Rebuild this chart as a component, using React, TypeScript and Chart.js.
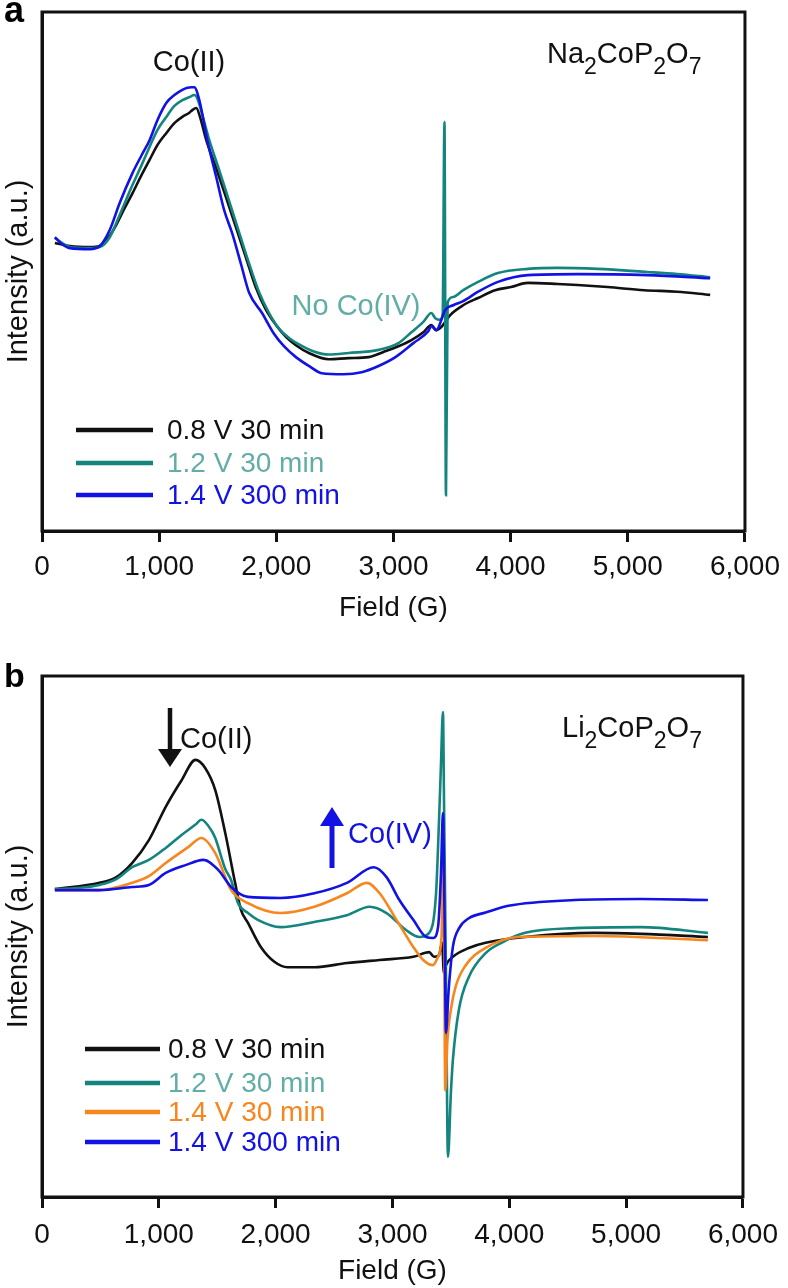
import React, { useEffect, useRef } from 'react';
import { Chart, registerables } from 'chart.js';

Chart.register(...registerables);

const FONT = '"Liberation Sans", Arial, Helvetica, sans-serif';

// ---------- axis ----------
const fieldTicks = [0, 1000, 2000, 3000, 4000, 5000, 6000];
const fieldTickLabels = ['0', '1,000', '2,000', '3,000', '4,000', '5,000', '6,000'];

// ---------- legend labels ----------
const labelsA = ['0.8 V 30 min', '1.2 V 30 min', '1.4 V 300 min'];
const labelsB = ['0.8 V 30 min', '1.2 V 30 min', '1.4 V 30 min', '1.4 V 300 min'];

// ---------- panel a : Na2CoP2O7 ----------
const aBlackField = [110, 238, 408, 493, 552, 620, 705, 773, 850, 918, 986, 1062, 1130, 1198, 1258, 1283, 1317, 1351, 1402, 1487, 1572, 1657, 1742, 1827, 1912, 1997, 2082, 2167, 2278, 2448, 2617, 2787, 2915, 3042, 3153, 3255, 3323, 3365, 3408, 3442, 3484, 3595, 3722, 3867, 4003, 4147, 4402, 4572, 4827, 5141, 5422, 5703];
const aBlackIntensity = [55.5, 54.9, 54.7, 54.9, 56.1, 58.4, 62.2, 65.1, 68.6, 71.5, 74.4, 76.7, 78.6, 79.8, 80.6, 81.1, 81.5, 79.6, 75.3, 69.9, 64.2, 58.4, 52.6, 46.8, 42.6, 39.7, 37.4, 35.8, 34.3, 33.1, 33.3, 33.5, 34.5, 35.6, 36.8, 38.3, 39.7, 38.7, 39.3, 40.3, 41.6, 43.5, 44.9, 46.4, 47.0, 47.8, 47.6, 47.4, 47.0, 46.4, 46.1, 45.5];

const aTealField = [110, 170, 238, 408, 493, 578, 663, 773, 850, 918, 986, 1062, 1130, 1198, 1258, 1300, 1325, 1368, 1428, 1513, 1598, 1683, 1768, 1853, 1938, 2023, 2108, 2190, 2320, 2448, 2617, 2873, 3042, 3153, 3255, 3323, 3357, 3399, 3420, 3435, 3448, 3462, 3510, 3595, 3722, 3892, 4147, 4402, 4742, 5167, 5422, 5703];
const aTealIntensity = [56.5, 55.5, 54.7, 54.5, 54.7, 56.6, 60.9, 66.7, 70.5, 74.0, 77.3, 79.8, 81.9, 83.0, 83.6, 84.0, 83.4, 80.2, 75.3, 69.5, 63.5, 57.5, 51.5, 46.0, 42.0, 39.0, 37.2, 36.0, 34.6, 34.0, 34.3, 34.9, 36.2, 38.3, 40.3, 42.0, 41.0, 40.7, 41.6, 78.8, 6.9, 44.0, 45.1, 46.4, 48.0, 49.7, 50.5, 50.7, 50.5, 49.9, 49.5, 48.9];

const aBlueField = [110, 170, 238, 408, 493, 578, 663, 773, 850, 918, 986, 1062, 1130, 1198, 1241, 1275, 1300, 1343, 1411, 1487, 1555, 1623, 1700, 1768, 1878, 1980, 2065, 2167, 2278, 2388, 2575, 2728, 2873, 3017, 3170, 3297, 3323, 3365, 3442, 3510, 3595, 3722, 3892, 4147, 4572, 5167, 5703];
const aBlueIntensity = [56.6, 55.3, 54.5, 54.3, 54.9, 58.0, 63.2, 69.0, 72.4, 75.3, 79.2, 82.5, 84.0, 85.0, 85.4, 85.5, 85.5, 83.0, 75.3, 68.2, 61.8, 57.4, 51.3, 45.9, 42.0, 38.0, 35.6, 33.5, 31.8, 30.4, 30.2, 30.6, 31.8, 33.5, 36.2, 38.5, 39.5, 38.7, 42.6, 43.5, 44.3, 46.1, 48.0, 49.3, 49.5, 49.3, 48.7];

// ---------- panel b : Li2CoP2O7 ----------
const bBlackField = [110, 492, 636, 771, 915, 1059, 1195, 1314, 1398, 1483, 1568, 1653, 1703, 1763, 1873, 1992, 2102, 2331, 2610, 2890, 3178, 3314, 3356, 3398, 3425, 3440, 3458, 3517, 3653, 3797, 4136, 4729, 5127, 5700];
const bBlackIntensity = [59.1, 60.3, 61.4, 64.1, 68.5, 74.9, 80.0, 83.9, 82.3, 78.1, 69.9, 60.3, 55.1, 52.6, 48.0, 45.1, 44.1, 44.1, 44.9, 45.5, 46.1, 47.0, 46.1, 46.4, 48.8, 43.0, 44.5, 46.1, 47.8, 48.8, 49.9, 50.7, 50.5, 49.9];

const bTealField = [110, 300, 492, 636, 771, 915, 1059, 1195, 1314, 1364, 1449, 1483, 1568, 1619, 1678, 1763, 1847, 2042, 2331, 2610, 2805, 2949, 3119, 3229, 3314, 3373, 3398, 3415, 3432, 3441, 3458, 3475, 3500, 3517, 3568, 3653, 3797, 3941, 4136, 4559, 5127, 5700];
const bTealIntensity = [59.1, 59.3, 59.9, 61.0, 63.3, 64.7, 67.0, 69.5, 71.5, 72.4, 70.4, 68.9, 63.0, 60.8, 56.4, 54.5, 53.2, 51.8, 52.8, 54.1, 55.7, 54.5, 51.2, 49.9, 50.7, 58.3, 72.0, 83.0, 93.1, 76.0, 42.0, 7.7, 20.0, 26.3, 35.9, 42.2, 46.8, 48.9, 50.7, 51.6, 51.8, 50.7];

const bOrangeField = [110, 492, 771, 915, 1059, 1254, 1364, 1483, 1619, 1763, 2042, 2331, 2610, 2780, 2890, 3034, 3178, 3263, 3347, 3390, 3420, 3436, 3452, 3470, 3500, 3542, 3627, 3797, 4076, 4729, 5700];
const bOrangeIntensity = [58.9, 58.9, 60.3, 61.6, 64.1, 67.2, 68.9, 66.0, 58.9, 56.4, 54.5, 55.7, 58.3, 60.3, 58.3, 53.2, 48.0, 45.5, 44.5, 46.1, 50.0, 70.4, 20.5, 30.0, 36.0, 40.5, 44.5, 47.8, 49.9, 50.1, 49.3];

const bBlueField = [110, 492, 771, 915, 1059, 1229, 1381, 1508, 1619, 1763, 2042, 2331, 2610, 2839, 2949, 3059, 3178, 3288, 3347, 3390, 3415, 3432, 3445, 3458, 3480, 3517, 3568, 3653, 3797, 3992, 4559, 5127, 5700];
const bBlueIntensity = [58.9, 58.9, 59.5, 59.9, 62.2, 63.7, 64.7, 62.8, 59.5, 57.6, 57.4, 58.3, 60.3, 63.3, 61.4, 57.0, 53.2, 49.9, 49.7, 51.8, 62.0, 73.7, 55.0, 31.5, 39.5, 48.0, 51.5, 53.5, 54.6, 55.9, 57.0, 57.2, 57.0];

// ---------- styles ----------
const C_BLACK = '#111111';
const C_TEAL = '#14857e';
const C_TEAL_TEXT = '#62aea6';
const C_ORANGE = '#f7861e';
const C_BLUE = '#1212e4';

const toPoints = (xs: number[], ys: number[]) => xs.map((x, i) => ({ x, y: ys[i] }));

const makeDataset = (label: string, xs: number[], ys: number[], color: string, order: number) => ({
  label,
  data: toPoints(xs, ys),
  borderColor: color,
  backgroundColor: color,
  borderWidth: 2.6,
  pointRadius: 0,
  fill: false,
  cubicInterpolationMode: 'monotone' as const,
  order,
});

function drawFormula(ctx: CanvasRenderingContext2D, parts: [string, boolean][], x: number, y: number, color: string) {
  ctx.save();
  ctx.fillStyle = color;
  ctx.textAlign = 'left';
  ctx.textBaseline = 'alphabetic';
  let cx = x;
  for (const [t, sub] of parts) {
    ctx.font = sub ? `23px ${FONT}` : `29px ${FONT}`;
    ctx.fillText(t, cx, sub ? y + 11 : y);
    cx += ctx.measureText(t).width;
  }
  ctx.restore();
}

function drawLegend(ctx: CanvasRenderingContext2D, chart: any, rows: number[], x0: number, x1: number, tx: number, textColors: string[]) {
  ctx.save();
  chart.data.datasets.forEach((ds: any, i: number) => {
    ctx.strokeStyle = ds.borderColor;
    ctx.lineWidth = 4.5;
    ctx.beginPath();
    ctx.moveTo(x0, rows[i]);
    ctx.lineTo(x1, rows[i]);
    ctx.stroke();
    ctx.fillStyle = textColors[i];
    ctx.font = `28px ${FONT}`;
    ctx.textAlign = 'left';
    ctx.textBaseline = 'middle';
    ctx.fillText(ds.label, tx, rows[i] + 1);
  });
  ctx.restore();
}

function drawArrow(ctx: CanvasRenderingContext2D, x: number, yTail: number, yTip: number, headBase: number, halfW: number, w: number, color: string) {
  ctx.save();
  ctx.strokeStyle = color;
  ctx.fillStyle = color;
  ctx.lineWidth = w;
  ctx.beginPath();
  ctx.moveTo(x, yTail);
  ctx.lineTo(x, headBase);
  ctx.stroke();
  ctx.beginPath();
  ctx.moveTo(x - halfW, headBase);
  ctx.lineTo(x + halfW, headBase);
  ctx.lineTo(x, yTip);
  ctx.closePath();
  ctx.fill();
  ctx.restore();
}

const framePlugin = {
  id: 'frame',
  afterDraw(chart: any) {
    const { ctx, chartArea } = chart;
    const { left, top, right, bottom } = chartArea;
    ctx.save();
    ctx.strokeStyle = C_BLACK;
    ctx.lineWidth = 3;
    ctx.strokeRect(left, top, right - left, bottom - top);
    ctx.restore();
  },
};

const overlayA = {
  id: 'overlayA',
  afterDraw(chart: any) {
    const ctx: CanvasRenderingContext2D = chart.ctx;
    ctx.save();
    ctx.fillStyle = '#000';
    ctx.font = `bold 36px ${FONT}`;
    ctx.textAlign = 'left';
    ctx.textBaseline = 'alphabetic';
    ctx.fillText('a', 4, 22);
    ctx.font = `29px ${FONT}`;
    ctx.fillStyle = C_BLACK;
    ctx.textAlign = 'center';
    ctx.textBaseline = 'middle';
    ctx.fillText('Co(II)', 189, 63);
    ctx.fillStyle = C_TEAL_TEXT;
    ctx.fillText('No Co(IV)', 356, 307);
    ctx.restore();
    drawFormula(ctx, [['Na', false], ['2', true], ['CoP', false], ['2', true], ['O', false], ['7', true]], 547, 63, C_BLACK);
    drawLegend(ctx, chart, [430, 463, 495], 76, 153, 167, [C_BLACK, C_TEAL_TEXT, C_BLUE]);
  },
};

const overlayB = {
  id: 'overlayB',
  afterDraw(chart: any) {
    const ctx: CanvasRenderingContext2D = chart.ctx;
    ctx.save();
    ctx.fillStyle = '#000';
    ctx.font = `bold 34px ${FONT}`;
    ctx.textAlign = 'left';
    ctx.textBaseline = 'alphabetic';
    ctx.fillText('b', 4, 47);
    ctx.font = `29px ${FONT}`;
    ctx.textBaseline = 'middle';
    ctx.fillStyle = C_BLACK;
    ctx.fillText('Co(II)', 180, 100);
    ctx.fillStyle = C_BLUE;
    ctx.fillText('Co(IV)', 348, 195);
    ctx.restore();
    drawArrow(ctx, 170, 68, 127, 109, 12, 4.5, C_BLACK);
    drawArrow(ctx, 332, 228, 167, 186, 12, 5, C_BLUE);
    drawFormula(ctx, [['Li', false], ['2', true], ['CoP', false], ['2', true], ['O', false], ['7', true]], 562, 97, C_BLACK);
    drawLegend(ctx, chart, [409, 443, 472, 502], 85, 160, 168, [C_BLACK, C_TEAL_TEXT, C_ORANGE, C_BLUE]);
  },
};

function buildConfig(datasets: any[], overlay: any, p: { xAxisHeight: number; right: number; top: number; tickPad: number; titlePad: number }) {
  return {
    type: 'line' as const,
    data: { datasets },
    options: {
      animation: false as const,
      responsive: false,
      maintainAspectRatio: false,
      devicePixelRatio: 1,
      layout: { padding: { left: 0, right: p.right, top: p.top, bottom: 0 } },
      plugins: { legend: { display: false }, tooltip: { enabled: false } },
      scales: {
        x: {
          type: 'linear' as const,
          min: 0,
          max: 6000,
          afterBuildTicks: (scale: any) => {
            scale.ticks = fieldTicks.map((v) => ({ value: v }));
          },
          ticks: {
            callback: (v: any) => {
              const i = fieldTicks.indexOf(Number(v));
              return i >= 0 ? fieldTickLabels[i] : '';
            },
            font: { family: FONT, size: 28 },
            color: C_BLACK,
            padding: p.tickPad,
            maxRotation: 0,
            autoSkip: false,
          },
          grid: { display: true, drawOnChartArea: false, drawTicks: true, tickLength: 11, tickWidth: 3, tickColor: C_BLACK },
          border: { display: true, width: 3, color: C_BLACK },
          title: { display: true, text: 'Field (G)', font: { family: FONT, size: 28 }, color: C_BLACK, padding: { top: 0, bottom: p.titlePad } },
          afterFit: (scale: any) => {
            scale.height = p.xAxisHeight;
          },
        },
        y: {
          type: 'linear' as const,
          min: 0,
          max: 100,
          ticks: { display: false },
          grid: { display: false },
          border: { display: true, width: 3, color: C_BLACK },
          title: { display: true, text: 'Intensity (a.u.)', font: { family: FONT, size: 29 }, color: C_BLACK, padding: { top: 2, bottom: 0 } },
          afterFit: (scale: any) => {
            scale.width = 42;
          },
        },
      },
    },
    plugins: [framePlugin, overlay],
  };
}

export default function App() {
  const refA = useRef<HTMLCanvasElement>(null);
  const refB = useRef<HTMLCanvasElement>(null);

  useEffect(() => {
    const dsA = [
      makeDataset(labelsA[0], aBlackField, aBlackIntensity, C_BLACK, 3),
      makeDataset(labelsA[1], aTealField, aTealIntensity, C_TEAL, 2),
      makeDataset(labelsA[2], aBlueField, aBlueIntensity, C_BLUE, 1),
    ];
    const dsB = [
      makeDataset(labelsB[0], bBlackField, bBlackIntensity, C_BLACK, 4),
      makeDataset(labelsB[1], bTealField, bTealIntensity, C_TEAL, 3),
      makeDataset(labelsB[2], bOrangeField, bOrangeIntensity, C_ORANGE, 2),
      makeDataset(labelsB[3], bBlueField, bBlueIntensity, C_BLUE, 1),
    ];
    const chartA = new Chart(refA.current as HTMLCanvasElement, buildConfig(dsA, overlayA, { xAxisHeight: 109, right: 40, top: 12, tickPad: 8, titlePad: 15 }) as any);
    const chartB = new Chart(refB.current as HTMLCanvasElement, buildConfig(dsB, overlayB, { xAxisHeight: 91, right: 38, top: 36, tickPad: 10, titlePad: 0 }) as any);
    return () => {
      chartA.destroy();
      chartB.destroy();
    };
  }, []);

  return (
    <div style={{ position: 'absolute', left: 0, top: 0, width: 788, height: 1288, background: '#fff' }}>
      <canvas ref={refA} width={788} height={640} style={{ display: 'block', width: 788, height: 640 }} />
      <canvas ref={refB} width={788} height={648} style={{ display: 'block', width: 788, height: 648 }} />
    </div>
  );
}
